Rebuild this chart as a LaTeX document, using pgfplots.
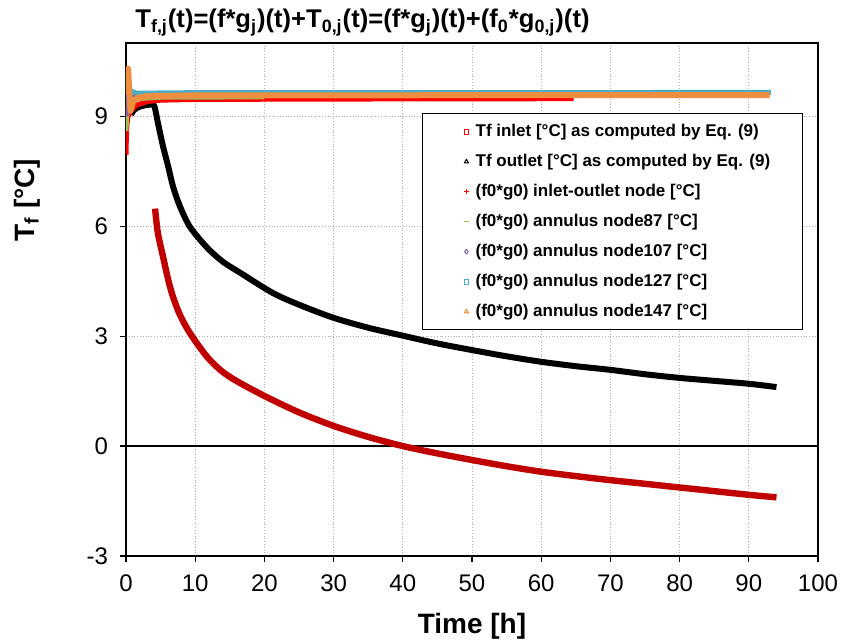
\documentclass[border=0pt]{standalone}
\usepackage{pgfplots}
\pgfplotsset{compat=1.18}
\usepackage{fontspec}
\setmainfont{Liberation Sans}

\definecolor{inletred}{HTML}{C00000}
\definecolor{ioRed}{HTML}{FF0000}
\definecolor{nodegreen}{HTML}{9BBB59}
\definecolor{nodepurple}{HTML}{8064A2}
\definecolor{nodecyan}{HTML}{4BACC6}
\definecolor{nodeorange}{HTML}{EE8E40}

% small legend marker, placed like Excel's
\newcommand{\legmark}[2]{%
  \path (0pt,0pt) (7.5pt,0pt);
  \draw[#1, line width=0.5pt, solid] plot[mark=#2, mark size=1.2pt, only marks] coordinates {(6.5pt,0pt)};}

\begin{document}
\begin{tikzpicture}
\begin{axis}[
  name=ax,
  scale only axis,
  width=346pt, height=256.5pt,
  xmin=0, xmax=100, ymin=-3, ymax=11,
  xtick={0,10,...,100},
  ytick={-3,0,3,6,9},
  tick align=outside, tick pos=left,
  major tick length=3pt,
  grid=major,
  major grid style={gray!65, densely dotted, line width=0.4pt},
  axis line style={black, line width=0.6pt},
  every tick/.style={black, line width=0.6pt},
  /pgf/number format/assume math mode=true,
  ticklabel style={font=\fontsize{12}{14}\selectfont},
  xticklabel style={yshift=-3pt},
  yticklabel style={xshift=-2.5pt},
  legend cell align=left,
  legend style={at={(0.978,0.8635)}, anchor=north east, draw=black, line width=0.6pt,
    font=\fontsize{8.5}{10}\selectfont\bfseries,
    inner xsep=14pt, inner ysep=1.5pt,
    nodes={text height=7.8pt, text depth=3.2pt}},
]
\draw[black, line width=0.6pt] (axis cs:0,0) -- (axis cs:100,0);

\addplot[inletred, line width=3.2pt, line join=round, smooth, tension=0.5,
  legend image code/.code={\legmark{red}{square}}] coordinates {
(4.2,6.48) (4.6,5.82) (5.35,5.17) (6.1,4.54) (6.8,4.07) (7.8,3.58) (9.25,3.08)
(11.7,2.44) (14,2.02) (16.5,1.72) (20.3,1.34) (25,0.92) (30,0.55) (35,0.25)
(40,0.0) (45,-0.2) (50,-0.38) (55,-0.55) (60,-0.70) (65,-0.82) (70,-0.93)
(75,-1.03) (80,-1.13) (85,-1.23) (90,-1.33) (94,-1.40)
};
\addlegendentry{Tf inlet [°C] as computed by Eq. (9)}

\addplot[black, line width=3pt, line join=round, smooth, tension=0.5,
  legend image code/.code={\legmark{black}{triangle}}] coordinates {
(0.7,9.05) (1.2,9.18) (1.7,9.24) (2.5,9.29) (3.6,9.32) (4.1,9.28) (4.6,8.83)
(5.35,8.18) (6.1,7.63) (6.8,7.08) (7.8,6.54) (9.25,5.98) (11.7,5.42) (14,5.03)
(16.5,4.73) (21.2,4.18) (25.1,3.85) (30,3.5) (35,3.23) (39.6,3.03) (45,2.8)
(50,2.62) (55,2.45) (60,2.3) (65,2.18) (70,2.08) (75,1.96) (80,1.86) (85,1.78)
(90,1.7) (94,1.61)
};
\addlegendentry{Tf outlet [°C] as computed by Eq. (9)}

\addplot[ioRed, line width=2.5pt, line join=round,
  legend image code/.code={\legmark{ioRed}{+}}] coordinates {
(0,7.95) (0.05,8.4) (0.15,8.8) (0.3,9.0) (0.7,9.15) (1.5,9.3) (3,9.4) (5,9.44)
(10,9.46) (30,9.47) (64.7,9.48)
};
\addlegendentry{(f0*g0) inlet-outlet node [°C]}

\addplot[nodegreen, line width=2.5pt, line join=round,
  legend image code/.code={\legmark{nodegreen}{-}}] coordinates {
(0,8.6) (0.1,9.0) (0.25,9.25) (0.6,9.4) (1.5,9.48) (5,9.52) (20,9.53)
};
\addlegendentry{(f0*g0) annulus node87 [°C]}

\addplot[nodepurple, line width=2.5pt, line join=round,
  legend image code/.code={\legmark{nodepurple}{diamond}}] coordinates {
(0,9.0) (0.08,9.45) (0.2,9.6) (0.6,9.6) (2,9.6) (92,9.62)
};
\addlegendentry{(f0*g0) annulus node107 [°C]}

\addplot[nodecyan, line width=2.5pt, line join=round,
  legend image code/.code={\legmark{nodecyan}{square}}] coordinates {
(0,9.7) (0.1,10.15) (0.3,10.0) (0.6,9.7) (1.5,9.63) (10,9.645) (93.2,9.65)
};
\addlegendentry{(f0*g0) annulus node127 [°C]}

\addplot[nodeorange, line width=3pt, line join=round,
  legend image code/.code={\legmark{nodeorange}{triangle}}] coordinates {
(0,9.6) (0.3,10.3) (0.65,9.15) (1.0,9.38) (1.6,9.5) (3,9.55) (10,9.57) (93,9.58)
};
\addlegendentry{(f0*g0) annulus node147 [°C]}
\end{axis}

\node[anchor=base west, inner sep=0pt, font=\fontsize{12.8}{14}\selectfont\bfseries]
  at ([xshift=4.5pt, yshift=7.5pt]ax.north west)
  {T\textsubscript{f,j}(t)=(f*g\textsubscript{j})(t)+T\textsubscript{0,j}(t)=(f*g\textsubscript{j})(t)+(f\textsubscript{0}*g\textsubscript{0,j})(t)};
\node[anchor=base, inner sep=0pt, font=\fontsize{14}{16}\selectfont\bfseries]
  at ([yshift=-39pt]ax.south) {Time [h]};
\node[rotate=90, inner sep=0pt, font=\fontsize{14}{16}\selectfont\bfseries]
  at ([xshift=-49.5pt, yshift=-78.5pt]ax.north west) {T\textsubscript{f} [°C]};

\pgfresetboundingbox
\path ([xshift=-63pt, yshift=21.5pt]ax.north west) rectangle ([xshift=11.5pt, yshift=-43pt]ax.south east);
\end{tikzpicture}
\end{document}
